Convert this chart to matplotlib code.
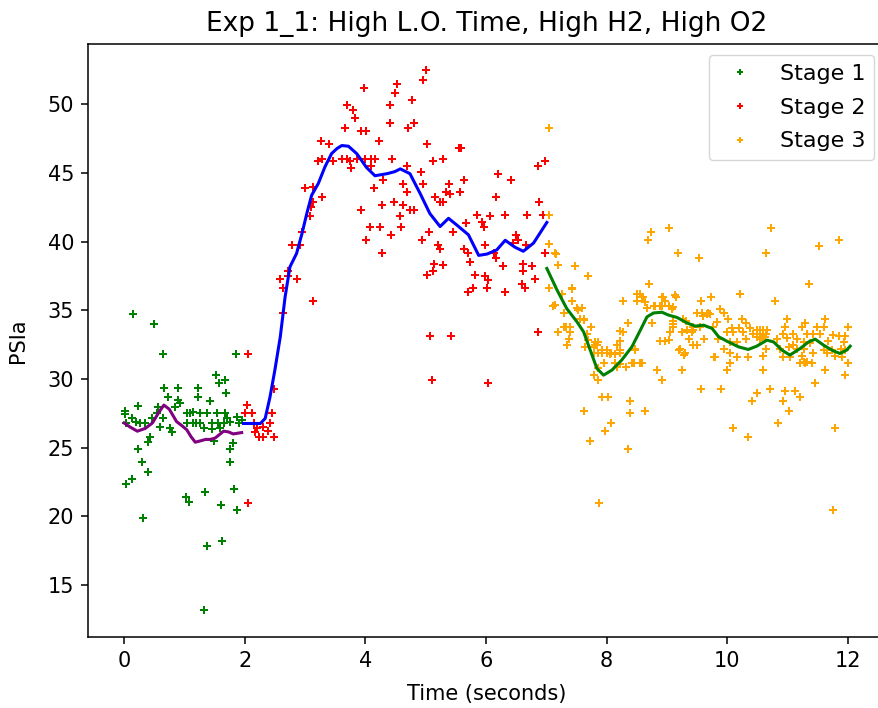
import matplotlib
matplotlib.use("Agg")
import matplotlib.pyplot as plt
import numpy as np

# Stage 1 (0-2 s)
s1_t = [0.02, 0.01, 0.14, 0.23, 0.13, 0.04, 0.27, 0.35, 0.46, 0.49, 0.54, 0.57, 0.65, 0.65,
        0.67, 0.73, 0.76, 0.79, 0.89, 0.90, 0.93, 0.85, 1.04, 1.04, 1.15, 1.15, 1.23, 1.23,
        1.26, 1.26, 1.32, 1.37, 1.43, 1.45, 1.45, 1.49, 1.53, 1.54, 1.56, 1.58, 1.59, 1.67,
        1.68, 1.69, 1.76, 1.80, 1.75, 1.76, 1.85, 1.87, 1.90, 1.95, 0.23, 0.30, 0.39, 0.43,
        0.40, 0.13, 0.03, 1.82, 1.02, 1.08, 1.34, 1.61, 1.87, 0.32, 1.37, 1.63, 1.32,
        1.09, 1.20, 1.65, 1.71, 0.20, 0.60]
s1_p = [27.7, 27.45, 34.7, 28.05, 27.13, 26.77, 26.77, 26.77, 27.13, 34.0, 27.5, 27.98, 31.81, 27.13,
        29.32, 28.66, 26.4, 26.16, 29.32, 28.47, 28.22, 27.98, 27.5, 26.77, 27.62, 26.77, 29.32, 28.66,
        27.5, 26.77, 26.4, 27.5, 28.42, 26.77, 26.33, 25.5, 30.3, 27.5, 26.77, 29.68, 26.4, 27.5,
        29.92, 29.0, 26.89, 25.31, 24.88, 23.95, 31.81, 27.25, 26.77, 27.01, 24.88, 23.95, 23.25, 25.8,
        25.43, 22.69, 22.33, 21.97, 21.43, 21.04, 21.77, 20.8, 20.46, 19.86, 17.87, 18.23, 13.19,
        27.5, 26.77, 26.77, 27.13, 26.9, 26.5]

# Stage 2 (2-7 s)
s2_t = [2.06, 2.06, 2.03, 2.01, 2.12, 2.45, 2.15, 2.42, 2.20, 2.31, 2.39, 2.17, 2.23, 2.31, 2.48, 2.48,
        2.64, 2.64, 2.59, 2.71, 2.86, 2.72, 3.13, 2.78, 2.92, 2.95, 3.08, 3.14, 3.10, 3.28, 3.00, 3.14,
        3.21, 3.28, 3.26, 3.40, 3.46, 3.61, 3.69, 3.75, 3.77, 3.87, 3.99, 4.10, 4.16, 4.44, 3.66, 3.69,
        3.80, 3.83, 3.93, 4.01, 3.98, 4.23, 4.41, 4.41, 4.49, 4.52, 4.70, 4.78, 4.80, 4.95, 5.00, 5.02,
        4.10, 4.69, 4.92, 5.13, 5.29, 5.56, 5.59, 5.64, 6.20, 6.41, 6.87, 6.98,
        4.15, 4.30, 4.63, 4.96, 5.38, 5.34, 5.41, 5.57, 4.69, 5.15, 5.24, 5.29, 6.17, 6.88, 4.27, 4.48,
        4.62, 4.74, 4.81, 3.93, 4.58, 5.85, 6.07, 6.31, 6.68, 6.94, 5.93, 5.96, 5.67, 4.07, 4.25, 4.59,
        5.05, 5.46, 6.50, 4.43, 4.01, 4.94, 5.21, 5.24, 5.63, 5.71, 5.99, 6.45, 6.54, 6.66, 4.27, 6.14,
        6.98, 5.74, 6.16, 5.14, 5.29, 6.29, 6.61, 6.77, 5.02, 5.13, 5.82, 5.99, 6.04, 6.62, 6.82, 6.59,
        6.65, 5.79, 5.71, 6.02, 6.31, 5.07, 5.42, 6.86, 5.10, 6.03]
s2_p = [31.8, 21.0, 28.1, 27.5, 27.5, 27.5, 26.8, 26.8, 26.4, 26.5, 26.2, 26.16, 25.8, 25.8, 25.8, 29.3,
        34.8, 36.6, 37.3, 37.5, 37.3, 37.9, 35.7, 39.75, 39.75, 40.7, 41.9, 42.9, 42.5, 43.25, 43.9, 44.0,
        45.9, 46.0, 47.3, 47.1, 45.9, 46.0, 46.0, 45.9, 45.4, 46.0, 46.0, 46.0, 46.0, 46.0, 48.3, 49.97,
        49.56, 49.0, 48.06, 48.06, 51.2, 47.3, 49.97, 48.66, 50.85, 51.45, 48.3, 50.3, 48.66, 51.8, 52.5, 47.1,
        45.5, 45.5, 45.1, 45.85, 46.0, 46.8, 46.8, 44.5, 44.9, 44.5, 45.5, 45.85,
        43.9, 44.5, 44.2, 44.2, 44.2, 43.6, 43.5, 43.6, 43.6, 43.25, 42.9, 42.9, 43.25, 42.9, 42.7, 42.9,
        42.7, 42.3, 42.3, 42.3, 41.9, 41.95, 41.9, 41.95, 41.95, 41.95, 41.4, 41.1, 41.35, 41.1, 41.1, 41.1,
        40.7, 40.7, 40.5, 40.5, 40.1, 40.1, 39.75, 39.5, 39.5, 39.2, 39.75, 39.9, 40.1, 39.75, 39.2, 39.2,
        39.2, 38.5, 38.8, 38.4, 38.3, 38.2, 38.4, 38.2, 37.55, 37.9, 37.55, 37.5, 37.2, 37.9, 37.3, 36.95,
        36.6, 36.6, 36.3, 36.6, 36.3, 33.1, 33.1, 33.4, 29.9, 29.7]

# Stage 3 (7-12 s)
s3_t = [7.05, 7.05, 7.05, 7.15, 7.20, 7.04, 7.12, 7.20,
        9.03, 8.74, 8.68, 10.73, 11.86, 11.53, 9.19, 9.54, 10.65, 7.48, 7.69, 7.42, 11.35, 8.71, 10.21,
        7.26, 7.42, 8.50, 8.58, 8.28, 8.50, 8.64, 8.94, 9.15, 9.56, 9.73, 10.80, 7.15,
        7.51, 7.59, 8.67, 8.78, 8.92, 9.03, 9.08, 7.29, 7.56, 7.62, 9.88, 9.94,
        9.10, 9.27, 9.32, 9.50, 9.58, 9.69, 10.02, 10.24, 10.32, 10.99, 11.29, 11.62, 8.75,
        7.32, 7.40, 7.75, 9.10, 9.44, 9.55, 9.77, 10.08, 10.19, 10.38, 10.96, 11.24, 11.49, 11.60, 12.01,
        7.19, 7.40, 7.67, 8.28, 8.36, 9.05, 9.25, 9.41,
        10.00, 10.10, 10.27, 10.43, 10.49, 10.54, 10.60, 10.65,
        10.93, 11.10, 11.32, 11.43, 11.54, 11.76, 11.85, 11.96,
        7.38, 7.81, 7.86, 8.22, 8.89, 8.97, 9.36, 9.61,
        9.85, 10.05, 10.16, 10.32, 10.54, 10.82, 11.16, 11.27, 11.38, 11.68, 11.93,
        7.34, 7.65, 7.79, 7.84, 8.17, 9.22, 9.44, 9.50,
        9.94, 10.65, 10.88, 11.02, 11.16, 11.27, 11.60, 11.74, 11.88, 11.96,
        7.79, 7.86, 7.92, 8.00, 8.08, 8.22, 8.47, 9.30, 10.05,
        10.93, 11.05, 11.24, 11.43, 11.65, 11.79, 11.90, 10.35, 10.60,
        7.95, 8.14, 8.45, 8.58, 9.79, 10.16, 10.05, 11.21, 11.29, 11.40, 12.01,
        7.86, 8.17, 8.33, 9.25, 8.83, 10.00, 10.60, 11.62,
        7.79, 7.86, 8.92, 11.96, 11.46, 9.57, 9.90, 10.71, 10.96, 11.13,
        7.92, 8.03, 10.49, 10.41, 8.39, 10.93, 11.21,
        7.62, 8.39, 8.64, 11.02, 8.08, 7.97, 10.84, 10.09, 10.34, 11.79, 7.72, 8.35, 7.88, 11.75,
        # extra points read from the dense clusters
        7.16, 7.43, 7.52, 7.63, 7.30, 7.74, 7.69, 7.81, 7.92, 8.00, 8.06, 8.14, 8.23,
        8.23, 8.33, 8.43, 8.56, 8.23, 8.47, 8.28, 8.50, 8.56, 8.61, 8.80, 8.92, 8.97, 8.89, 9.13, 9.11,
        9.66, 9.72, 9.33, 9.44, 9.03, 9.11, 9.20, 9.28, 9.80,
        10.49, 10.55, 10.60, 10.66, 10.50, 10.57, 10.63, 11.27, 11.33, 9.83, 9.60, 11.00, 11.10]
s3_p = [48.3, 41.95, 39.8, 39.2, 38.3, 36.6, 35.3, 33.4,
        41.03, 40.7, 40.1, 41.03, 40.1, 39.7, 39.2, 38.8, 39.2, 38.2, 37.5, 36.6, 36.95, 36.95, 36.2,
        36.2, 35.7, 36.2, 36.0, 35.7, 35.7, 35.6, 35.98, 35.98, 35.7, 36.0, 35.7, 35.4,
        35.2, 35.2, 35.2, 35.3, 35.3, 35.3, 35.1, 34.8, 34.4, 34.4, 35.1, 34.8,
        34.2, 34.4, 34.2, 34.8, 34.8, 34.8, 34.4, 34.4, 34.05, 34.4, 34.05, 34.4, 34.05,
        33.8, 33.8, 33.8, 33.8, 33.8, 33.8, 33.8, 33.7, 33.7, 33.7, 33.8, 33.8, 33.8, 33.8, 33.8,
        33.4, 33.4, 33.3, 33.4, 34.05, 33.4, 33.4, 33.4,
        33.4, 33.4, 33.4, 33.3, 33.3, 33.3, 33.3, 33.3,
        33.3, 33.3, 33.3, 33.3, 33.3, 33.2, 33.1, 33.1,
        32.9, 32.7, 32.7, 32.8, 32.8, 32.8, 32.9, 32.9,
        32.9, 32.7, 32.7, 32.9, 32.9, 32.9, 32.9, 32.7, 32.6, 32.8, 32.7,
        32.5, 32.35, 32.35, 32.5, 32.5, 32.2, 32.5, 32.5,
        32.2, 32.2, 32.2, 32.35, 32.2, 32.2, 32.1, 32.1, 32.2, 32.1,
        31.9, 31.9, 31.9, 31.9, 31.9, 31.9, 32.1, 31.9, 31.9,
        31.6, 31.6, 31.7, 31.9, 31.9, 31.7, 31.6, 31.6, 31.7,
        31.2, 31.2, 31.2, 31.2, 31.6, 31.6, 31.2, 31.2, 31.2, 31.2, 31.2,
        30.8, 30.9, 30.9, 30.65, 30.65, 30.65, 30.65, 30.65,
        30.3, 29.9, 29.9, 30.3, 29.7, 29.3, 29.3, 29.3, 29.1, 29.1,
        28.7, 28.7, 28.95, 28.4, 28.4, 28.4, 28.7,
        27.7, 27.5, 27.7, 27.7, 26.8, 26.2, 26.8, 26.4, 25.8, 26.4, 25.5, 24.9, 21.0, 20.45,
        39.13, 36.58, 35.05, 34.3, 33.8, 33.8, 32.82, 32.46, 32.1, 32.1, 31.85, 31.85, 32.1,
        31.1, 30.9, 31.2, 31.2, 33.5, 32.2, 35.66, 36.2, 36.2, 35.98, 35.3, 36.0, 35.66, 35.3, 36.1, 35.25,
        34.76, 34.76, 33.55, 33.55, 32.82, 34.04, 32.1, 31.73, 31.6,
        33.55, 33.55, 33.55, 33.55, 33.07, 33.07, 33.07, 31.25, 31.25, 34.16, 34.6, 33.0, 32.5]

# smoothed curves
fit1_t = [0.0, 0.10, 0.22, 0.35, 0.47, 0.58, 0.66, 0.75, 0.87, 0.96, 1.04, 1.11, 1.18, 1.27,
          1.35, 1.43, 1.51, 1.58, 1.65, 1.73, 1.81, 1.88, 1.95]
fit1_p = [26.8, 26.5, 26.2, 26.4, 26.8, 27.6, 28.1, 27.8, 26.9, 26.6, 26.3, 25.8, 25.4, 25.5,
          25.6, 25.6, 25.7, 25.95, 26.2, 26.15, 26.0, 26.05, 26.1]

fit2_t = [1.98, 2.26, 2.34, 2.42, 2.50, 2.59, 2.67, 2.75, 2.86, 2.95, 3.03, 3.11, 3.22, 3.33,
          3.44, 3.53, 3.61, 3.72, 3.86, 4.02, 4.16, 4.36, 4.49, 4.58, 4.74, 4.91, 5.07, 5.24,
          5.38, 5.52, 5.71, 5.88, 6.02, 6.18, 6.32, 6.48, 6.62, 6.79, 7.01]
fit2_p = [26.76, 26.76, 27.13, 28.7, 30.64, 33.07, 35.98, 38.16, 39.14, 40.59, 42.05, 43.38, 44.23, 45.44,
          46.41, 46.78, 47.0, 46.95, 46.4, 45.4, 44.8, 44.95, 45.1, 45.3, 44.95, 43.5, 42.05, 41.1,
          41.7, 41.2, 40.5, 39.0, 39.1, 39.4, 40.1, 39.6, 39.3, 39.9, 41.4]

fit3_t = [7.01, 7.18, 7.34, 7.51, 7.62, 7.73, 7.84, 7.95, 8.09, 8.25, 8.42, 8.56, 8.67, 8.78,
          8.92, 9.03, 9.17, 9.33, 9.47, 9.61, 9.75, 9.86, 10.02, 10.19, 10.35, 10.49, 10.66,
          10.77, 10.91, 11.04, 11.21, 11.35, 11.46, 11.60, 11.76, 11.87, 11.98, 12.04]
fit3_p = [38.05, 36.47, 35.13, 34.16, 33.43, 32.1, 30.77, 30.28, 30.65, 31.37, 32.34, 33.55, 34.52, 34.81,
          34.86, 34.65, 34.48, 34.09, 33.85, 33.92, 33.68, 33.07, 32.7, 32.34, 32.15, 32.39, 32.83,
          32.7, 32.1, 31.74, 32.22, 32.7, 32.9, 32.46, 32.05, 31.86, 32.1, 32.39]

plt.rcParams['font.size'] = 15

fig = plt.figure(figsize=(8.79, 7.08), dpi=100)
# the right spine sits just past the picture's right edge, as in the original
ax = fig.add_axes([0.1, 0.1, 0.907, 0.838])

ax.plot(s1_t, s1_p, 'P', color='green', ms=5.5, mew=0, label='Stage 1')
ax.plot(s2_t, s2_p, 'P', color='red', ms=5.5, mew=0, label='Stage 2')
ax.plot(s3_t, s3_p, 'P', color='orange', ms=5.5, mew=0, label='Stage 3')

ax.plot(fit1_t, fit1_p, color='purple', lw=2.2)
ax.plot(fit2_t, fit2_p, color='blue', lw=2.2)
ax.plot(fit3_t, fit3_p, color='green', lw=2.2)

ax.set_xlim(-0.6, 12.62)
ax.set_ylim(11.2, 54.4)
ax.set_xticks(np.arange(0, 13, 2))
ax.set_yticks(np.arange(15, 51, 5))
for s in ax.spines.values():
    s.set_linewidth(1.1)
ax.tick_params(width=1.1, length=5, pad=5)

ax.set_title("Exp 1_1: High L.O. Time, High H2, High O2", fontsize=19, pad=9)
ax.set_xlabel("Time (seconds)", labelpad=9)
ax.set_ylabel("PSIa", labelpad=14)
ax.legend(loc='upper right', markerscale=0.7, fontsize=16, labelspacing=0.62)

fig.savefig("out.png", dpi=100)
